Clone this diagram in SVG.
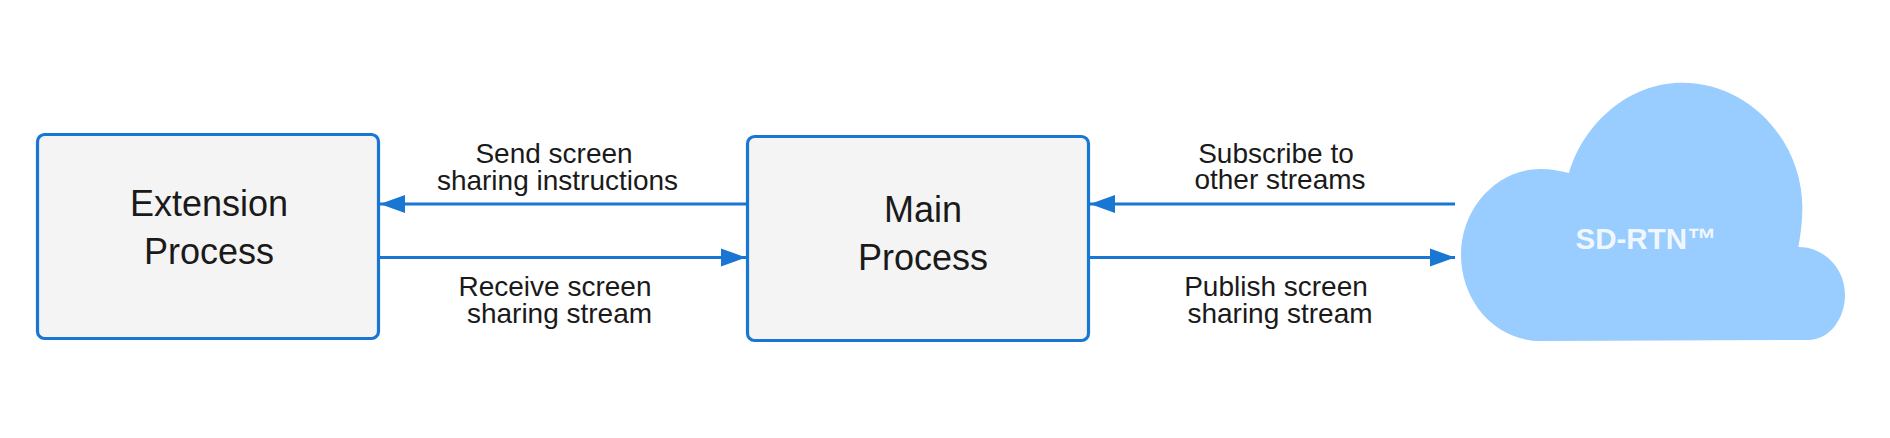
<svg xmlns="http://www.w3.org/2000/svg" width="1890" height="438" viewBox="0 0 1890 438">
<style>
text{font-family:"Liberation Sans",Arial,sans-serif;text-anchor:middle;fill:#1a1a1a}
.box{fill:#f4f4f4;stroke:#1976d2;stroke-width:3.2}
.title{font-size:36px}
.label{font-size:28px}
.conn{stroke:#1976d2;stroke-width:3;fill:none;marker-end:url(#head)}
.cloudtext{font-size:29.5px;font-weight:bold;fill:#f0f7ff}
</style>
<defs>
<marker id="head" markerUnits="userSpaceOnUse" markerWidth="26" markerHeight="20" refX="25" refY="10" orient="auto"><path d="M0,1 L25,10 L0,19 Z" fill="#1976d2"/></marker>
</defs>
<rect width="1890" height="438" fill="#ffffff"/>
<g id="connectors">
<path class="conn" d="M747,204 H380"/>
<path class="conn" d="M380,257.5 H746"/>
<path class="conn" d="M1455,204 H1090"/>
<path class="conn" d="M1090,257.5 H1455"/>
</g>
<g id="labels">
<text class="label" x="554" y="163">Send screen</text>
<text class="label" x="557.5" y="190">sharing instructions</text>
<text class="label" x="555" y="296">Receive screen</text>
<text class="label" x="559.5" y="323">sharing stream</text>
<text class="label" x="1276" y="163">Subscribe to</text>
<text class="label" x="1280" y="189">other streams</text>
<text class="label" x="1276" y="296">Publish screen</text>
<text class="label" x="1280" y="323">sharing stream</text>
</g>
<g id="extension-process">
<rect class="box" x="37.5" y="134.5" width="341" height="204" rx="7"/>
<text class="title" x="209" y="216">Extension</text>
<text class="title" x="209" y="264">Process</text>
</g>
<g id="main-process">
<rect class="box" x="747.5" y="136.5" width="341" height="204" rx="7"/>
<text class="title" x="923" y="222">Main</text>
<text class="title" x="923" y="270">Process</text>
</g>
<g id="sd-rtn">
<path fill="#99ccff" d="M1569,173 C1584,122 1630,82.7 1682,82.7 C1750,82.7 1802.4,142 1802.4,208 C1802.4,222 1800.5,235 1798.4,247 C1824,247 1845,268 1845,295 C1845,318 1830,340 1808,340 L1541,341 C1494,341 1461,300 1461,255 C1461,208 1497,169 1541,169 C1551,169 1560,171 1569,173Z"/>
<text class="cloudtext" x="1646" y="249">SD-RTN™</text>
</g>
</svg>
